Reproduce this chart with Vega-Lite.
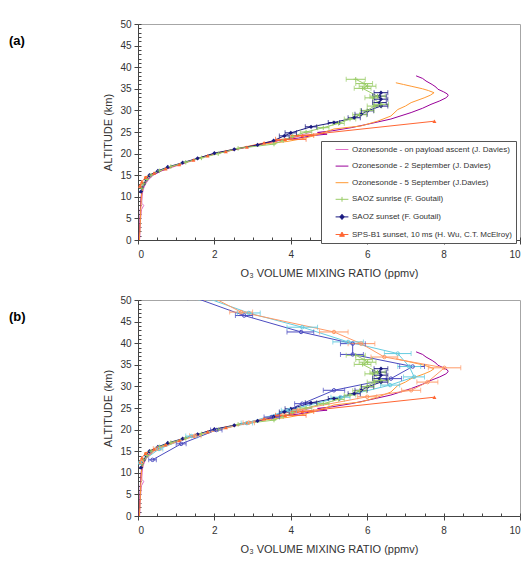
{
"$schema": "https://vega.github.io/schema/vega-lite/v6.json",
"padding": {"left": 8, "top": 18, "right": 5, "bottom": 5},
"bounds": "flush",
"spacing": 60,
"config": {"font": "Liberation Sans", "view": {"stroke": "#a6a6a6", "strokeWidth": 1},
  "axis": {"grid": false, "labelFont": "Liberation Sans", "labelFontSize": 10, "labelColor": "#333", "titleFont": "Liberation Sans", "titleFontSize": 11, "titleFontWeight": "normal", "titleColor": "#333", "domainColor": "#444", "tickColor": "#444"},
  "legend": {"labelFont": "Liberation Sans"}},
"resolve": {"scale": {"color": "independent", "stroke": "independent", "fill": "independent", "shape": "independent"}, "legend": {"color": "independent", "stroke": "independent", "fill": "independent", "shape": "independent"}},
"datasets": {"prof": [
{"s":"P","y":0,"x":0.04},{"s":"P","y":1,"x":0.05},{"s":"P","y":2,"x":0.05},{"s":"P","y":3,"x":0.06},{"s":"P","y":4,"x":0.06},{"s":"P","y":5,"x":0.07},{"s":"P","y":6,"x":0.08},{"s":"P","y":7,"x":0.09},{"s":"P","y":8,"x":0.15},{"s":"P","y":8.5,"x":0.1},{"s":"P","y":9,"x":0.1},{"s":"P","y":10,"x":0.11},{"s":"P","y":11,"x":0.12},{"s":"P","y":12,"x":0.15},{"s":"P","y":13,"x":0.2},{"s":"P","y":14,"x":0.28},{"s":"P","y":15,"x":0.4},{"s":"P","y":16,"x":0.62},{"s":"P","y":17,"x":0.95},{"s":"P","y":18,"x":1.3},{"s":"P","y":19,"x":1.65},{"s":"P","y":20,"x":2.05},{"s":"P","y":21,"x":2.6},{"s":"P","y":22,"x":3.15},{"s":"P","y":23,"x":3.7},{"s":"P","y":24,"x":4.15},{"s":"P","y":25,"x":4.55},
{"s":"S2","y":0,"x":0.03},{"s":"S2","y":1,"x":0.03},{"s":"S2","y":2,"x":0.04},{"s":"S2","y":3,"x":0.04},{"s":"S2","y":4,"x":0.05},{"s":"S2","y":5,"x":0.05},{"s":"S2","y":6,"x":0.06},{"s":"S2","y":7,"x":0.06},{"s":"S2","y":8,"x":0.07},{"s":"S2","y":9,"x":0.07},{"s":"S2","y":10,"x":0.08},{"s":"S2","y":11,"x":0.1},{"s":"S2","y":12,"x":0.12},{"s":"S2","y":13,"x":0.17},{"s":"S2","y":14,"x":0.25},{"s":"S2","y":15,"x":0.38},{"s":"S2","y":16,"x":0.6},{"s":"S2","y":17,"x":0.9},{"s":"S2","y":18,"x":1.25},{"s":"S2","y":19,"x":1.62},{"s":"S2","y":20,"x":2.02},{"s":"S2","y":21,"x":2.55},{"s":"S2","y":22,"x":3.1},{"s":"S2","y":23,"x":3.65},{"s":"S2","y":23.6,"x":4.2},{"s":"S2","y":24.2,"x":4.6},{"s":"S2","y":24.5,"x":4.95},{"s":"S2","y":24.9,"x":4.7},{"s":"S2","y":25.3,"x":5.1},{"s":"S2","y":26,"x":5.58},{"s":"S2","y":26.8,"x":6.01},{"s":"S2","y":28,"x":6.62},{"s":"S2","y":29.5,"x":7.15},{"s":"S2","y":30.5,"x":7.45},{"s":"S2","y":31.4,"x":7.67},{"s":"S2","y":32.2,"x":7.9},{"s":"S2","y":32.9,"x":8.06},{"s":"S2","y":33.4,"x":8.12},{"s":"S2","y":33.8,"x":8.1},{"s":"S2","y":34.3,"x":8.0},{"s":"S2","y":34.9,"x":7.85},{"s":"S2","y":35.4,"x":7.8},{"s":"S2","y":36,"x":7.7},{"s":"S2","y":36.8,"x":7.54},{"s":"S2","y":37.4,"x":7.45},{"s":"S2","y":38,"x":7.28},
{"s":"S5","y":0,"x":0.04},{"s":"S5","y":1,"x":0.04},{"s":"S5","y":2,"x":0.05},{"s":"S5","y":3,"x":0.05},{"s":"S5","y":4,"x":0.06},{"s":"S5","y":5,"x":0.06},{"s":"S5","y":6,"x":0.07},{"s":"S5","y":7,"x":0.07},{"s":"S5","y":8,"x":0.08},{"s":"S5","y":9,"x":0.08},{"s":"S5","y":10,"x":0.09},{"s":"S5","y":11,"x":0.1},{"s":"S5","y":12,"x":0.13},{"s":"S5","y":12.8,"x":0.06},{"s":"S5","y":13.3,"x":0.18},{"s":"S5","y":14,"x":0.22},{"s":"S5","y":14.6,"x":0.16},{"s":"S5","y":15,"x":0.35},{"s":"S5","y":16,"x":0.55},{"s":"S5","y":17,"x":0.85},{"s":"S5","y":18,"x":1.25},{"s":"S5","y":19,"x":1.6},{"s":"S5","y":20,"x":2.0},{"s":"S5","y":21,"x":2.5},{"s":"S5","y":22,"x":3.05},{"s":"S5","y":22.8,"x":3.9},{"s":"S5","y":23.4,"x":4.27},{"s":"S5","y":24.1,"x":4.6},{"s":"S5","y":25,"x":4.9},{"s":"S5","y":25.7,"x":5.13},{"s":"S5","y":26.4,"x":5.84},{"s":"S5","y":27.5,"x":6.27},{"s":"S5","y":28.7,"x":6.62},{"s":"S5","y":30.2,"x":6.8},{"s":"S5","y":31,"x":7.0},{"s":"S5","y":31.8,"x":7.15},{"s":"S5","y":32.9,"x":7.49},{"s":"S5","y":33.5,"x":7.65},{"s":"S5","y":34.1,"x":7.75},{"s":"S5","y":34.6,"x":7.6},{"s":"S5","y":35,"x":7.45},{"s":"S5","y":35.6,"x":7.15},{"s":"S5","y":36,"x":6.95},{"s":"S5","y":36.4,"x":6.75},
{"s":"SPS","y":12.5,"x":0.05},{"s":"SPS","y":13.5,"x":0.1},{"s":"SPS","y":14.5,"x":0.2},{"s":"SPS","y":15.5,"x":0.42},{"s":"SPS","y":16.5,"x":0.72},{"s":"SPS","y":17.5,"x":1.08},{"s":"SPS","y":18.5,"x":1.45},{"s":"SPS","y":19.5,"x":1.82},{"s":"SPS","y":20.5,"x":2.3},{"s":"SPS","y":21.5,"x":2.85},{"s":"SPS","y":22.5,"x":3.3},{"s":"SPS","y":23.3,"x":3.85,"lo":3.6,"hi":4.4},{"s":"SPS","y":24.2,"x":4.3,"lo":4.0,"hi":4.6},{"s":"SPS","y":27.5,"x":7.76},
{"s":"SS","y":11.2,"x":0.08},{"s":"SS","y":12.1,"x":0.1},{"s":"SS","y":13,"x":0.16},{"s":"SS","y":14,"x":0.21},{"s":"SS","y":15,"x":0.3},{"s":"SS","y":16,"x":0.52},{"s":"SS","y":16.9,"x":0.78},{"s":"SS","y":17.9,"x":1.17},{"s":"SS","y":18.9,"x":1.56},{"s":"SS","y":20.1,"x":2.0},{"s":"SS","y":21,"x":2.52},{"s":"SS","y":22,"x":3.13},{"s":"SS","y":23,"x":3.55},{"s":"SS","y":24.1,"x":3.83,"lo":3.7,"hi":3.96},{"s":"SS","y":24.8,"x":4.0,"lo":3.85,"hi":4.15},{"s":"SS","y":26.2,"x":4.53,"lo":4.38,"hi":4.68},{"s":"SS","y":27.2,"x":5.13,"lo":4.98,"hi":5.28},{"s":"SS","y":28.3,"x":5.66,"lo":5.5,"hi":5.82},{"s":"SS","y":29.1,"x":5.84,"lo":5.68,"hi":6.0},{"s":"SS","y":29.9,"x":6.01,"lo":5.85,"hi":6.17},{"s":"SS","y":31,"x":6.36,"lo":6.18,"hi":6.54},{"s":"SS","y":31.8,"x":6.32,"lo":6.14,"hi":6.5},{"s":"SS","y":32.6,"x":6.36,"lo":6.18,"hi":6.54},{"s":"SS","y":33.3,"x":6.32,"lo":6.14,"hi":6.5},{"s":"SS","y":34.1,"x":6.36,"lo":6.18,"hi":6.54},
{"s":"SR","y":12,"x":0.1},{"s":"SR","y":13,"x":0.15},{"s":"SR","y":14,"x":0.23},{"s":"SR","y":15,"x":0.34},{"s":"SR","y":16,"x":0.56},{"s":"SR","y":17,"x":0.86},{"s":"SR","y":18,"x":1.25},{"s":"SR","y":19,"x":1.66},{"s":"SR","y":20,"x":2.1},{"s":"SR","y":21.2,"x":2.62},{"s":"SR","y":22.2,"x":3.56},{"s":"SR","y":23,"x":3.8},{"s":"SR","y":24,"x":4.05},{"s":"SR","y":25,"x":4.4,"lo":4.25,"hi":4.55},{"s":"SR","y":26,"x":4.85,"lo":4.7,"hi":5.0},{"s":"SR","y":27,"x":5.25,"lo":5.1,"hi":5.4},{"s":"SR","y":28,"x":5.55,"lo":5.4,"hi":5.7},{"s":"SR","y":29,"x":5.8,"lo":5.62,"hi":5.98},{"s":"SR","y":30,"x":6.0,"lo":5.82,"hi":6.18},{"s":"SR","y":31,"x":6.19,"lo":6.0,"hi":6.38},{"s":"SR","y":31.4,"x":6.36,"lo":6.16,"hi":6.56},{"s":"SR","y":32.9,"x":6.14,"lo":5.94,"hi":6.34},{"s":"SR","y":33.3,"x":6.27,"lo":6.07,"hi":6.47},{"s":"SR","y":35.1,"x":5.88,"lo":5.66,"hi":6.1},{"s":"SR","y":35.6,"x":6.01,"lo":5.79,"hi":6.23},{"s":"SR","y":36.2,"x":5.92,"lo":5.7,"hi":6.14},{"s":"SR","y":37.2,"x":5.7,"lo":5.45,"hi":5.95},
{"s":"M1","y":13,"x":0.38,"lo":0.28,"hi":0.48},{"s":"M1","y":16.7,"x":1.13,"lo":1.0,"hi":1.26},{"s":"M1","y":19.9,"x":2.05,"lo":1.9,"hi":2.2},{"s":"M1","y":22.9,"x":3.5,"lo":3.3,"hi":3.7},{"s":"M1","y":26,"x":4.3,"lo":4.1,"hi":4.5},{"s":"M1","y":29.1,"x":5.13,"lo":4.85,"hi":5.41},{"s":"M1","y":31.8,"x":6.62,"lo":6.35,"hi":6.9},{"s":"M1","y":34.6,"x":7.19,"lo":6.85,"hi":7.5},{"s":"M1","y":37.4,"x":5.62,"lo":5.3,"hi":5.9},{"s":"M1","y":39.9,"x":5.62,"lo":5.3,"hi":5.95},{"s":"M1","y":42.6,"x":4.27,"lo":3.9,"hi":4.6},{"s":"M1","y":46.4,"x":2.78,"lo":2.55,"hi":3.0},{"s":"M1","y":50.5,"x":1.5,"lo":1.3,"hi":1.7},
{"s":"M2","y":12.3,"x":0.05},{"s":"M2","y":15.5,"x":0.55,"lo":0.45,"hi":0.65},{"s":"M2","y":18.5,"x":1.4,"lo":1.25,"hi":1.55},{"s":"M2","y":21.5,"x":2.85,"lo":2.7,"hi":3.0},{"s":"M2","y":24.5,"x":3.95,"lo":3.75,"hi":4.15},{"s":"M2","y":27.5,"x":5.3,"lo":5.05,"hi":5.55},{"s":"M2","y":30.3,"x":6.6,"lo":6.35,"hi":6.85},{"s":"M2","y":32.2,"x":7.23,"lo":6.95,"hi":7.5},{"s":"M2","y":34.6,"x":7.1,"lo":6.8,"hi":7.4},{"s":"M2","y":37.6,"x":6.8,"lo":6.45,"hi":7.15},{"s":"M2","y":40.3,"x":5.5,"lo":5.1,"hi":5.9},{"s":"M2","y":43.7,"x":4.3,"lo":3.9,"hi":4.7},{"s":"M2","y":47,"x":2.9,"lo":2.6,"hi":3.2},{"s":"M2","y":50.4,"x":1.82,"lo":1.6,"hi":2.05},
{"s":"M3","y":12.5,"x":0.1},{"s":"M3","y":15.6,"x":0.5,"lo":0.4,"hi":0.6},{"s":"M3","y":18.6,"x":1.5,"lo":1.35,"hi":1.65},{"s":"M3","y":21.6,"x":2.9,"lo":2.75,"hi":3.05},{"s":"M3","y":24.6,"x":4.2,"lo":4.0,"hi":4.4},{"s":"M3","y":27.6,"x":6.0,"lo":5.75,"hi":6.25},{"s":"M3","y":29.1,"x":7.15,"lo":6.9,"hi":7.4},{"s":"M3","y":31,"x":7.58,"lo":7.3,"hi":7.85},{"s":"M3","y":34.3,"x":8.02,"lo":7.6,"hi":8.45},{"s":"M3","y":36.8,"x":6.45,"lo":6.1,"hi":6.8},{"s":"M3","y":39.9,"x":5.84,"lo":5.5,"hi":6.2},{"s":"M3","y":42.6,"x":5.13,"lo":4.75,"hi":5.5},{"s":"M3","y":47.2,"x":2.7,"lo":2.4,"hi":3.0},{"s":"M3","y":50.4,"x":2.0,"lo":1.75,"hi":2.25}
]},
"vconcat": [
{
 "width": 382, "height": 216,
 "title": {"text": "(a)", "anchor": "start", "frame": "group", "orient": "top", "dx": -129, "dy": 29, "offset": 0, "fontSize": 13, "fontWeight": "bold", "font": "Liberation Sans", "color": "#000"},
 "data": {"name": "prof"},
 "transform": [{"filter": "indexof(datum.s,'M')<0"}],
 "resolve": {"axis": {"x": "independent", "y": "independent"}},
 "layer": [
  {"mark": {"type": "line", "strokeWidth": 1, "clip": true},
   "encoding": {
    "x": {"field": "x", "type": "quantitative", "scale": {"domain": [0, 10], "nice": false}, "axis": {"orient": "bottom", "values": [0,2,4,6,8,10], "tickSize": 4, "labelPadding": 5, "title": "O₃ VOLUME MIXING RATIO (ppmv)", "titlePadding": 8}},
    "y": {"field": "y", "type": "quantitative", "scale": {"domain": [0, 50], "nice": false}, "axis": {"orient": "left", "values": [0,5,10,15,20,25,30,35,40,45,50], "tickSize": 4, "labelPadding": 3, "title": "ALTITUDE (km)", "titlePadding": 6}},
    "color": {"field": "s", "type": "nominal", "scale": {"domain": ["P","S2","S5","SR","SS","SPS","M1","M2","M3"], "range": ["#E070C8","#990099","#FF9933","#99CC66","#1A1A80","#FF6633","#4B4BC0","#66CCE0","#FF9966"]}, "legend": null},
    "order": {"field": "y", "type": "quantitative"}}},
  {"transform": [{"filter": "isValid(datum.lo)"}],
   "mark": {"type": "rule", "strokeWidth": 1, "clip": true},
   "encoding": {
    "x": {"field": "lo", "type": "quantitative", "axis": {"orient": "bottom", "values": [0,0.5,1,1.5,2,2.5,3,3.5,4,4.5,5,5.5,6,6.5,7,7.5,8,8.5,9,9.5,10], "tickSize": -3, "labels": false, "domain": false, "title": null}},
    "x2": {"field": "hi"},
    "y": {"field": "y", "type": "quantitative", "axis": {"orient": "left", "values": [0,1,2,3,4,5,6,7,8,9,10,11,12,13,14,15,16,17,18,19,20,21,22,23,24,25,26,27,28,29,30,31,32,33,34,35,36,37,38,39,40,41,42,43,44,45,46,47,48,49,50], "tickSize": -3, "labels": false, "domain": false, "title": null}},
    "color": {"field": "s", "type": "nominal", "legend": null}}},
  {"transform": [{"filter": "isValid(datum.lo)"}],
   "mark": {"type": "tick", "orient": "vertical", "size": 5, "thickness": 1, "clip": true},
   "encoding": {"x": {"field": "lo", "type": "quantitative", "axis": null}, "y": {"field": "y", "type": "quantitative", "axis": null}, "color": {"field": "s", "type": "nominal", "legend": null}}},
  {"transform": [{"filter": "isValid(datum.hi)"}],
   "mark": {"type": "tick", "orient": "vertical", "size": 5, "thickness": 1, "clip": true},
   "encoding": {"x": {"field": "hi", "type": "quantitative", "axis": null}, "y": {"field": "y", "type": "quantitative", "axis": null}, "color": {"field": "s", "type": "nominal", "legend": null}}},
  {"transform": [{"filter": "datum.s=='SS'"}],
   "mark": {"type": "point", "shape": "diamond", "filled": true, "size": 18, "opacity": 1, "clip": true},
   "encoding": {"x": {"field": "x", "type": "quantitative", "axis": null}, "y": {"field": "y", "type": "quantitative", "axis": null}, "color": {"field": "s", "type": "nominal", "legend": null}}},
  {"transform": [{"filter": "datum.s=='SR'"}],
   "mark": {"type": "point", "shape": "M-1,0H1M0,-1V1", "filled": false, "size": 20, "strokeWidth": 1, "opacity": 1, "clip": true},
   "encoding": {"x": {"field": "x", "type": "quantitative", "axis": null}, "y": {"field": "y", "type": "quantitative", "axis": null}, "color": {"field": "s", "type": "nominal", "legend": null}}},
  {"transform": [{"filter": "datum.s=='SPS'"}],
   "mark": {"type": "point", "shape": "triangle-up", "filled": true, "size": 16, "opacity": 1, "clip": true},
   "encoding": {"x": {"field": "x", "type": "quantitative", "axis": null}, "y": {"field": "y", "type": "quantitative", "axis": null}, "color": {"field": "s", "type": "nominal", "legend": null}}},
  {"mark": {"type": "point", "opacity": 0},
   "encoding": {
    "shape": {"field": "s", "type": "nominal", "scale": {"domain": ["P","S2","S5","SR","SS","SPS"], "range": ["M-1.6,0H1.6","M-1.6,0H1.6","M-1.6,0H1.6","M-1.6,0H1.6M0,-0.6V0.6","M-1.6,0H1.6M0,-0.65L0.55,0L0,0.65L-0.55,0Z","M-1.6,0H1.6M0,-0.6L0.6,0.45L-0.6,0.45Z"]},
      "legend": {"orient": "none", "legendX": 183, "legendY": 117, "title": null, "padding": 4, "rowPadding": 7.6, "symbolSize": 64, "symbolOffset": 12.5, "labelOffset": 5.5, "symbolStrokeWidth": 1, "symbolOpacity": 1, "symbolFillColor": "transparent", "symbolStrokeColor": "#000", "labelFontSize": 8, "labelColor": "#333", "labelLimit": 300, "strokeColor": "#555", "fillColor": "#ffffff",
       "labelExpr": "datum.label=='P'?'Ozonesonde - on payload ascent (J. Davies)':datum.label=='S2'?'Ozonesonde - 2 September (J. Davies)':datum.label=='S5'?'Ozonesonde - 5 September (J.Davies)':datum.label=='SR'?'SAOZ sunrise (F. Goutail)':datum.label=='SS'?'SAOZ sunset (F. Goutail)':'SPS-B1 sunset, 10 ms (H. Wu, C.T. McElroy)'"}},
    "stroke": {"field": "s", "type": "nominal", "scale": {"domain": ["P","S2","S5","SR","SS","SPS"], "range": ["#E070C8","#990099","#FF9933","#99CC66","#1A1A80","#FF6633"]},
      "legend": {"orient": "none", "legendX": 183, "legendY": 117, "title": null, "padding": 4, "rowPadding": 7.6, "symbolSize": 64, "symbolOffset": 12.5, "labelOffset": 5.5, "symbolStrokeWidth": 1, "symbolOpacity": 1, "symbolFillColor": "transparent", "symbolStrokeColor": "#000", "labelFontSize": 8, "labelColor": "#333", "labelLimit": 300, "strokeColor": "#555", "fillColor": "#ffffff",
       "labelExpr": "datum.label=='P'?'Ozonesonde - on payload ascent (J. Davies)':datum.label=='S2'?'Ozonesonde - 2 September (J. Davies)':datum.label=='S5'?'Ozonesonde - 5 September (J.Davies)':datum.label=='SR'?'SAOZ sunrise (F. Goutail)':datum.label=='SS'?'SAOZ sunset (F. Goutail)':'SPS-B1 sunset, 10 ms (H. Wu, C.T. McElroy)'"}},
    "fill": {"field": "s", "type": "nominal", "scale": {"domain": ["P","S2","S5","SR","SS","SPS"], "range": ["#E070C8","#990099","#FF9933","#99CC66","#1A1A80","#FF6633"]},
      "legend": {"orient": "none", "legendX": 183, "legendY": 117, "title": null, "padding": 4, "rowPadding": 7.6, "symbolSize": 64, "symbolOffset": 12.5, "labelOffset": 5.5, "symbolStrokeWidth": 1, "symbolOpacity": 1, "symbolFillColor": "transparent", "symbolStrokeColor": "#000", "labelFontSize": 8, "labelColor": "#333", "labelLimit": 300, "strokeColor": "#555", "fillColor": "#ffffff",
       "labelExpr": "datum.label=='P'?'Ozonesonde - on payload ascent (J. Davies)':datum.label=='S2'?'Ozonesonde - 2 September (J. Davies)':datum.label=='S5'?'Ozonesonde - 5 September (J.Davies)':datum.label=='SR'?'SAOZ sunrise (F. Goutail)':datum.label=='SS'?'SAOZ sunset (F. Goutail)':'SPS-B1 sunset, 10 ms (H. Wu, C.T. McElroy)'"}}}}
 ]
},
{
 "width": 382, "height": 216,
 "title": {"text": "(b)", "anchor": "start", "frame": "group", "orient": "top", "dx": -129, "dy": 29, "offset": 0, "fontSize": 13, "fontWeight": "bold", "font": "Liberation Sans", "color": "#000"},
 "data": {"name": "prof"},
 "resolve": {"axis": {"x": "independent", "y": "independent"}},
 "layer": [
  {"mark": {"type": "line", "strokeWidth": 1, "clip": true},
   "encoding": {
    "x": {"field": "x", "type": "quantitative", "scale": {"domain": [0, 10], "nice": false}, "axis": {"orient": "bottom", "values": [0,2,4,6,8,10], "tickSize": 4, "labelPadding": 5, "title": "O₃ VOLUME MIXING RATIO (ppmv)", "titlePadding": 8}},
    "y": {"field": "y", "type": "quantitative", "scale": {"domain": [0, 50], "nice": false}, "axis": {"orient": "left", "values": [0,5,10,15,20,25,30,35,40,45,50], "tickSize": 4, "labelPadding": 3, "title": "ALTITUDE (km)", "titlePadding": 6}},
    "color": {"field": "s", "type": "nominal", "scale": {"domain": ["P","S2","S5","SR","SS","SPS","M1","M2","M3"], "range": ["#E070C8","#990099","#FF9933","#99CC66","#1A1A80","#FF6633","#4B4BC0","#66CCE0","#FF9966"]}, "legend": null},
    "order": {"field": "y", "type": "quantitative"}}},
  {"transform": [{"filter": "isValid(datum.lo)"}],
   "mark": {"type": "rule", "strokeWidth": 1, "clip": true},
   "encoding": {
    "x": {"field": "lo", "type": "quantitative", "axis": {"orient": "bottom", "values": [0,0.5,1,1.5,2,2.5,3,3.5,4,4.5,5,5.5,6,6.5,7,7.5,8,8.5,9,9.5,10], "tickSize": -3, "labels": false, "domain": false, "title": null}},
    "x2": {"field": "hi"},
    "y": {"field": "y", "type": "quantitative", "axis": {"orient": "left", "values": [0,1,2,3,4,5,6,7,8,9,10,11,12,13,14,15,16,17,18,19,20,21,22,23,24,25,26,27,28,29,30,31,32,33,34,35,36,37,38,39,40,41,42,43,44,45,46,47,48,49,50], "tickSize": -3, "labels": false, "domain": false, "title": null}},
    "color": {"field": "s", "type": "nominal", "legend": null}}},
  {"transform": [{"filter": "isValid(datum.lo)"}],
   "mark": {"type": "tick", "orient": "vertical", "size": 5, "thickness": 1, "clip": true},
   "encoding": {"x": {"field": "lo", "type": "quantitative", "axis": null}, "y": {"field": "y", "type": "quantitative", "axis": null}, "color": {"field": "s", "type": "nominal", "legend": null}}},
  {"transform": [{"filter": "isValid(datum.hi)"}],
   "mark": {"type": "tick", "orient": "vertical", "size": 5, "thickness": 1, "clip": true},
   "encoding": {"x": {"field": "hi", "type": "quantitative", "axis": null}, "y": {"field": "y", "type": "quantitative", "axis": null}, "color": {"field": "s", "type": "nominal", "legend": null}}},
  {"transform": [{"filter": "datum.s=='SS'"}],
   "mark": {"type": "point", "shape": "diamond", "filled": true, "size": 18, "opacity": 1, "clip": true},
   "encoding": {"x": {"field": "x", "type": "quantitative", "axis": null}, "y": {"field": "y", "type": "quantitative", "axis": null}, "color": {"field": "s", "type": "nominal", "legend": null}}},
  {"transform": [{"filter": "datum.s=='SR'"}],
   "mark": {"type": "point", "shape": "M-1,0H1M0,-1V1", "filled": false, "size": 20, "strokeWidth": 1, "opacity": 1, "clip": true},
   "encoding": {"x": {"field": "x", "type": "quantitative", "axis": null}, "y": {"field": "y", "type": "quantitative", "axis": null}, "color": {"field": "s", "type": "nominal", "legend": null}}},
  {"transform": [{"filter": "datum.s=='SPS'"}],
   "mark": {"type": "point", "shape": "triangle-up", "filled": true, "size": 16, "opacity": 1, "clip": true},
   "encoding": {"x": {"field": "x", "type": "quantitative", "axis": null}, "y": {"field": "y", "type": "quantitative", "axis": null}, "color": {"field": "s", "type": "nominal", "legend": null}}},
  {"transform": [{"filter": "indexof(datum.s,'M')==0"}],
   "mark": {"type": "point", "shape": "circle", "filled": false, "size": 12, "strokeWidth": 1, "opacity": 1, "clip": true},
   "encoding": {"x": {"field": "x", "type": "quantitative", "axis": null}, "y": {"field": "y", "type": "quantitative", "axis": null}, "color": {"field": "s", "type": "nominal", "legend": null}}},
  {"mark": {"type": "point", "opacity": 0},
   "encoding": {
    "shape": {"field": "s", "type": "nominal", "scale": {"domain": ["P","S2","S5","SR","SS","SPS","M1","M2","M3"], "range": ["M-1.6,0H1.6","M-1.6,0H1.6","M-1.6,0H1.6","M-1.6,0H1.6M0,-0.6V0.6","M-1.6,0H1.6M0,-0.65L0.55,0L0,0.65L-0.55,0Z","M-1.6,0H1.6M0,-0.6L0.6,0.45L-0.6,0.45Z","M-1.6,0H1.6M0.5,0A0.5,0.5,0,1,1,-0.5,0A0.5,0.5,0,1,1,0.5,0Z","M-1.6,0H1.6M0.5,0A0.5,0.5,0,1,1,-0.5,0A0.5,0.5,0,1,1,0.5,0Z","M-1.6,0H1.6M0.5,0A0.5,0.5,0,1,1,-0.5,0A0.5,0.5,0,1,1,0.5,0Z"]},
      "legend": {"orient": "none", "legendX": 195, "legendY": 115, "title": null, "padding": 1, "rowPadding": 3, "symbolSize": 64, "symbolOffset": 6, "labelOffset": 4, "symbolStrokeWidth": 1, "symbolOpacity": 1, "symbolFillColor": "transparent", "symbolStrokeColor": "#000", "labelFontSize": 8, "labelColor": "#333", "labelLimit": 300, "strokeColor": "#555", "fillColor": "#ffffff",
       "labelExpr": "datum.label=='P'?'Ozonesonde - on payload ascent (J. Davies)':datum.label=='S2'?'Ozonesonde - 2 September (J. Davies)':datum.label=='S5'?'Ozonesonde - 5 September (J. Davies)':datum.label=='SR'?'SAOZ sunrise (F. Goutail)':datum.label=='SS'?'SAOZ sunset (F. Goutail)':datum.label=='SPS'?'SPS-B1 sunset, 10 ms (H. Wu, C.T. McElroy)':datum.label=='M1'?'MIPAS morning (LST=10.34, SZA=52.25)':datum.label=='M2'?'MIPAS morning (LST=10.27, SZA=48.63)':'MIPAS morning (LST=10.19, SZA=44.78)'"}},
    "stroke": {"field": "s", "type": "nominal", "scale": {"domain": ["P","S2","S5","SR","SS","SPS","M1","M2","M3"], "range": ["#E070C8","#990099","#FF9933","#99CC66","#1A1A80","#FF6633","#4B4BC0","#66CCE0","#FF9966"]},
      "legend": {"orient": "none", "legendX": 195, "legendY": 115, "title": null, "padding": 1, "rowPadding": 3, "symbolSize": 64, "symbolOffset": 6, "labelOffset": 4, "symbolStrokeWidth": 1, "symbolOpacity": 1, "symbolFillColor": "transparent", "symbolStrokeColor": "#000", "labelFontSize": 8, "labelColor": "#333", "labelLimit": 300, "strokeColor": "#555", "fillColor": "#ffffff",
       "labelExpr": "datum.label=='P'?'Ozonesonde - on payload ascent (J. Davies)':datum.label=='S2'?'Ozonesonde - 2 September (J. Davies)':datum.label=='S5'?'Ozonesonde - 5 September (J. Davies)':datum.label=='SR'?'SAOZ sunrise (F. Goutail)':datum.label=='SS'?'SAOZ sunset (F. Goutail)':datum.label=='SPS'?'SPS-B1 sunset, 10 ms (H. Wu, C.T. McElroy)':datum.label=='M1'?'MIPAS morning (LST=10.34, SZA=52.25)':datum.label=='M2'?'MIPAS morning (LST=10.27, SZA=48.63)':'MIPAS morning (LST=10.19, SZA=44.78)'"}},
    "fill": {"field": "s", "type": "nominal", "scale": {"domain": ["P","S2","S5","SR","SS","SPS","M1","M2","M3"], "range": ["#E070C8","#990099","#FF9933","#99CC66","#1A1A80","#FF6633","#4B4BC0","#66CCE0","#FF9966"]},
      "legend": {"orient": "none", "legendX": 195, "legendY": 115, "title": null, "padding": 1, "rowPadding": 3, "symbolSize": 64, "symbolOffset": 6, "labelOffset": 4, "symbolStrokeWidth": 1, "symbolOpacity": 1, "symbolFillColor": "transparent", "symbolStrokeColor": "#000", "labelFontSize": 8, "labelColor": "#333", "labelLimit": 300, "strokeColor": "#555", "fillColor": "#ffffff",
       "labelExpr": "datum.label=='P'?'Ozonesonde - on payload ascent (J. Davies)':datum.label=='S2'?'Ozonesonde - 2 September (J. Davies)':datum.label=='S5'?'Ozonesonde - 5 September (J. Davies)':datum.label=='SR'?'SAOZ sunrise (F. Goutail)':datum.label=='SS'?'SAOZ sunset (F. Goutail)':datum.label=='SPS'?'SPS-B1 sunset, 10 ms (H. Wu, C.T. McElroy)':datum.label=='M1'?'MIPAS morning (LST=10.34, SZA=52.25)':datum.label=='M2'?'MIPAS morning (LST=10.27, SZA=48.63)':'MIPAS morning (LST=10.19, SZA=44.78)'"}}}}
 ]
}
]
}
